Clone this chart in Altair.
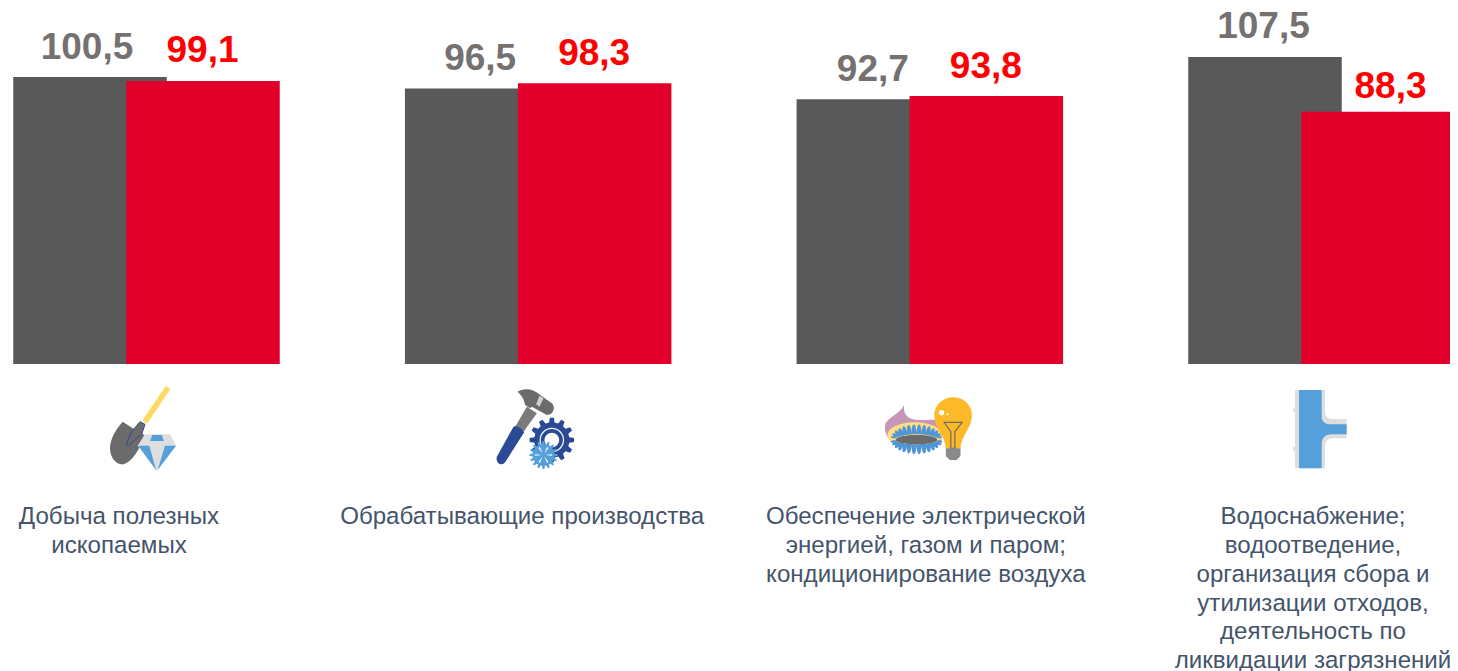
import math
import re
import altair as alt
import pandas as pd

categories = ["mining", "manufacturing", "energy", "water"]
labels = [
    "Добыча полезных\nископаемых",
    "Обрабатывающие производства",
    "Обеспечение электрической\nэнергией, газом и паром;\nкондиционирование воздуха",
    "Водоснабжение;\nводоотведение,\nорганизация сбора и\nутилизации отходов,\nдеятельность по\nликвидации загрязнений",
]
grey_values = [100.5, 96.5, 92.7, 107.5]
red_values = [99.1, 98.3, 93.8, 88.3]
grey_labels = ["100,5", "96,5", "92,7", "107,5"]
red_labels = ["99,1", "98,3", "93,8", "88,3"]
label_shift = [-27.5, -16, -4, -8.5]

GREY_BAR, RED_BAR = "#595959", "#E2002B"
GREY_TEXT, RED_TEXT = "#767171", "#FF0000"
CAT_TEXT = "#44546A"
FONT = "Liberation Sans"
BLUE, NAVY, SOFT = "#559FDA", "#2B4A96", "#DEDEDE"
GM = "#6B6B6B"

x_scale = alt.Scale(type="point", domain=categories, range=[138.5, 1313.5], padding=0)
y_scale = alt.Scale(domain=[0, 120], range=[356, 13.28])
X = alt.X("category:N", scale=x_scale, axis=None)
Y = alt.Y("value:Q", scale=y_scale, axis=None)


def shift(d, ox, oy):
    """Crop-pixel glyph outline (3x zoom) into px around the icon anchor."""
    tokens = re.findall(r"[A-Za-z]|-?\d+\.?\d*", d)
    out, axis = [], 0
    for t in tokens:
        if t.isalpha():
            out.append(t)
            axis = 0
        else:
            v = float(t) / 3 + (oy if axis else ox)
            out.append(f"{v:.2f}")
            axis = 1 - axis
    return " ".join(out)


def circle(cx, cy, rx, ry=None):
    ry = ry or rx
    k = 0.5523
    return (f"M{cx-rx},{cy} C{cx-rx},{cy-k*ry} {cx-k*rx},{cy-ry} {cx},{cy-ry} "
            f"C{cx+k*rx},{cy-ry} {cx+rx},{cy-k*ry} {cx+rx},{cy} "
            f"C{cx+rx},{cy+k*ry} {cx+k*rx},{cy+ry} {cx},{cy+ry} "
            f"C{cx-k*rx},{cy+ry} {cx-rx},{cy+k*ry} {cx-rx},{cy} Z")


def gear(cx, cy, r_out, r_in, teeth):
    pts = []
    step = 2 * math.pi / teeth
    for i in range(teeth):
        a = i * step
        for da, r in [(-0.30, r_in), (-0.17, r_out), (0.17, r_out), (0.30, r_in)]:
            t = a + da * step
            pts.append((cx + r * math.cos(t), cy + r * math.sin(t)))
    return "M" + " L".join(f"{x:.1f},{y:.1f}" for x, y in pts) + " Z"


def petals(cx, cy, rx, ry, n, length):
    parts = []
    for i in range(n):
        a = 2 * math.pi * i / n
        bx, by = cx + rx * math.cos(a), cy + ry * math.sin(a)
        dx, dy = math.cos(a) * 0.35, math.sin(a) * 1.0
        tx, ty = bx + dx * length, by + dy * length
        px, py = 7, 0
        parts.append(f"M{bx-px:.1f},{by-py:.1f} Q{tx-px:.1f},{ty-py:.1f} {tx:.1f},{ty:.1f} "
                     f"Q{tx+px:.1f},{ty+py:.1f} {bx+px:.1f},{by+py:.1f} Z")
    return " ".join(parts)


spokes = " ".join(
    f"M{190+5*math.cos(a):.1f},{240+5*math.sin(a):.1f} L{190+26*math.cos(a+.1):.1f},{240+26*math.sin(a+.1):.1f} "
    f"L{190+26*math.cos(a-.1):.1f},{240+26*math.sin(a-.1):.1f} Z"
    for a in [i * math.pi / 3 for i in range(6)]
)

# (outline in zoomed-crop px, fill, stroke, stroke width)
icons = {
    "mining": (-56.5, -50, [
        ("M228,32 L241,42 L171,146 L157,136 Z", "#FFD966", None, 0),
        ("M98,140 C75,165 60,195 60,220 C60,250 80,270 100,268 C125,262 150,225 163,180 L128,160 Z", GM, None, 0),
        ("M150,140 L165,148 L155,178 L115,212 L110,205 L125,170 Z", GM, NAVY, 1),
        ("M165,178 L240,178 L258,212 L200,288 L143,212 Z", SOFT, None, 0),
        ("M187,180 L215,180 L222,198 L180,198 Z", BLUE, None, 0),
        ("M145,212 L178,212 L198,285 Z", BLUE, None, 0),
        ("M225,212 L258,212 L203,285 Z", BLUE, None, 0),
    ]),
    "manufacturing": (-58, -50, [
        ("M140,95 L170,115 L130,170 L105,155 Z", "#7A7A7A", None, 0),
        ("M100,155 C110,150 125,160 132,172 L75,262 C65,275 45,265 50,245 Z", NAVY, None, 0),
        ("M112,50 C130,38 160,40 180,60 L215,85 C225,95 222,110 210,118 L200,120 L155,95 L150,100 L135,90 C130,65 120,58 112,50 Z", GM, None, 0),
        ("M178,62 L190,70 L178,95 L168,88 Z", "#D0D0D0", None, 0),
        (gear(215, 195, 67, 53, 12), NAVY, None, 0),
        (circle(215, 195, 35), NAVY, "#FFFFFF", 1.2),
        (circle(215, 195, 22), "#FFFFFF", None, 0),
        (gear(190, 240, 42, 33, 16), BLUE, None, 0),
        (spokes, "#FFFFFF", None, 0),
    ]),
    "energy": (-55, -40, [
        ("M88,60 C85,85 95,105 135,105 C165,108 185,95 200,120 L200,180 L60,180 C40,165 25,140 32,115 C45,95 75,85 88,60 Z", "#C795B8", None, 0),
        (circle(120, 150, 82, 38), "#FFDF80", None, 0),
        (petals(125, 163, 66, 15, 30, 30), "#4F96D8", None, 0),
        (circle(125, 164, 62, 14), GM, None, 0),
        ("M185,120 C165,75 195,37 235,37 C275,37 305,75 285,120 C272,148 258,165 257,190 L213,190 C212,165 198,148 185,120 Z", "#FDB927", None, 0),
        (circle(200, 83, 8), "#FFFFFF", None, 0),
        (circle(218, 88, 3), "#FFFFFF", None, 0),
        ("M208,112 L262,112 L240,140 L240,190 L228,190 L228,140 Z", "none", "#6B6B6B", 1.2),
        ("M213,190 L257,190 L257,213 L245,225 L225,225 L213,213 Z", "#8A8A8A", None, 0),
    ]),
    "water": (-51.5, -45, [
        ("M75,30 L165,30 L165,95 C165,110 175,117 190,117 L230,117 L230,175 L190,175 C175,175 165,185 165,200 L165,265 L75,265 Z", SOFT, None, 0),
        ("M69,85 L75,85 L75,95 L69,95 Z M69,200 L75,200 L75,212 L69,212 Z", SOFT, None, 0),
        ("M87,30 L155,30 L155,110 C155,125 165,133 185,133 L230,133 L230,163 L185,163 C165,163 155,175 155,190 L155,265 L87,265 Z", BLUE, None, 0),
    ]),
}

df = pd.DataFrame({
    "category": categories * 2,
    "value": grey_values + red_values,
    "text": grey_labels + red_labels,
    "series": ["grey"] * 4 + ["red"] * 4,
})

# value labels that the reference nudges away from the default spot: (dx, dy)
nudges = {"100,5": (-1.5, 1), "92,7": (1, 0), "88,3": (13, 5)}

layers = []
for series, bar_col, off in [("grey", GREY_BAR, -56.5), ("red", RED_BAR, 56.5)]:
    sub = df[df.series == series]
    layers.append(alt.Chart(sub).mark_bar(width=153.5, xOffset=off, color=bar_col).encode(
        x=X, y=Y, y2=alt.datum(0)))
for row in df.itertuples():
    txt_col, txt_off = (GREY_TEXT, -58) if row.series == "grey" else (RED_TEXT, 56)
    nx, ny = nudges.get(row.text, (0, 0))
    layers.append(alt.Chart(df[df.text == row.text]).mark_text(
        font=FONT, fontSize=37, fontWeight="bold", color=txt_col, baseline="alphabetic",
        align="center", dx=txt_off + nx, dy=-18.5 + ny).encode(x=X, y=Y, text="text:N"))

for cat, (ox, oy, parts) in icons.items():
    cdf = pd.DataFrame({"category": [cat]})
    for d, fill, stroke, sw in parts:
        kw = dict(shape=shift(d, ox, oy), size=4, opacity=1)
        if fill == "none":
            kw.update(filled=False)
        else:
            kw.update(filled=True, fill=fill)
        if stroke:
            kw.update(stroke=stroke, strokeWidth=sw)
        else:
            kw.update(strokeWidth=0)
        layers.append(alt.Chart(cdf).mark_point(**kw).encode(x=X, y=alt.value(417)))

for cat, lab, sh in zip(categories, labels, label_shift):
    cdf = pd.DataFrame({"category": [cat], "label": [lab]})
    layers.append(alt.Chart(cdf).mark_text(
        font=FONT, fontSize=24.1, color=CAT_TEXT, align="center", baseline="top",
        lineBreak="\n", lineHeight=28.85, dx=sh).encode(x=X, y=alt.value(497), text="label:N"))

chart = alt.layer(*layers).properties(
    width=1442, height=663, padding=0, autosize="none",
    background="#FFFFFF",
).configure_view(stroke=None)

chart.save("out.html", embed_options={"renderer": "svg", "actions": False})
